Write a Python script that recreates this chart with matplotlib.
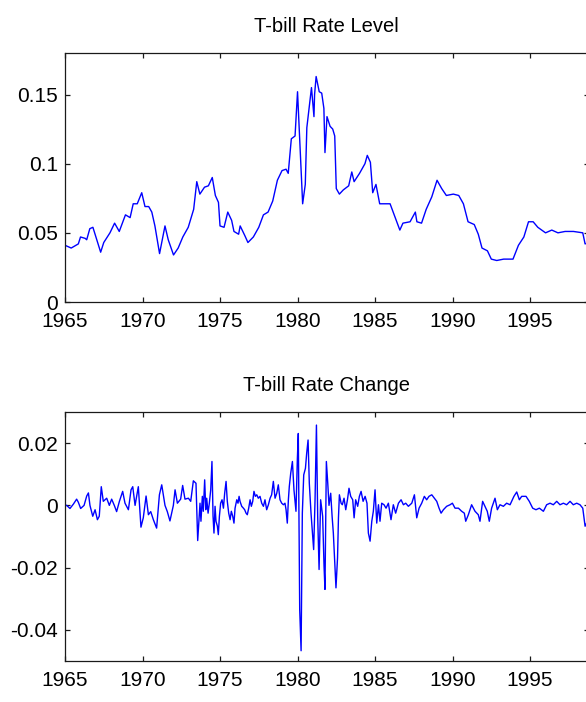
import matplotlib
matplotlib.use('Agg')
import matplotlib.pyplot as plt

plt.rcParams['font.family'] = ['Liberation Sans', 'DejaVu Sans']
plt.rcParams['axes.unicode_minus'] = False

# ---------------- data ----------------
level_years = [1965.0, 1965.4, 1965.86, 1966.0, 1966.3, 1966.4, 1966.6, 1966.8, 1967.05, 1967.3,
               1967.5, 1967.9, 1968.2, 1968.5, 1968.9, 1969.2, 1969.4, 1969.66, 1969.95, 1970.16,
               1970.4, 1970.6, 1970.8, 1971.1, 1971.45, 1971.66, 1972.0, 1972.3, 1972.6, 1972.95,
               1973.3, 1973.5, 1973.7, 1974.0, 1974.25, 1974.5, 1974.7, 1974.9, 1975.0, 1975.26,
               1975.5, 1975.75, 1975.9, 1976.2, 1976.3, 1976.6, 1976.8, 1977.15, 1977.5, 1977.8,
               1978.1, 1978.4, 1978.7, 1979.0, 1979.26, 1979.4, 1979.6, 1979.84, 1980.0, 1980.16,
               1980.33, 1980.5, 1980.6, 1980.8, 1980.9, 1981.06, 1981.1, 1981.2, 1981.4, 1981.56,
               1981.7, 1981.77, 1981.9, 1982.1, 1982.27, 1982.4, 1982.5, 1982.7, 1982.95, 1983.3,
               1983.5, 1983.65, 1984.0, 1984.35, 1984.5, 1984.7, 1984.85, 1985.06, 1985.3, 1985.65,
               1985.97, 1986.2, 1986.6, 1986.8, 1987.26, 1987.6, 1987.7, 1988.0, 1988.3, 1988.66,
               1989.0, 1989.3, 1989.6, 1990.05, 1990.4, 1990.7, 1991.0, 1991.4, 1991.66, 1991.9,
               1992.25, 1992.5, 1992.85, 1993.3, 1993.9, 1994.25, 1994.6, 1994.9, 1995.2, 1995.5,
               1996.0, 1996.4, 1996.8, 1997.26, 1997.8, 1998.4, 1998.55, 1998.8]
level_values = [0.041, 0.039, 0.042, 0.047, 0.046, 0.045, 0.053, 0.054, 0.045, 0.036,
                0.043, 0.050, 0.057, 0.051, 0.063, 0.061, 0.071, 0.071, 0.079, 0.069,
                0.069, 0.065, 0.055, 0.035, 0.055, 0.045, 0.034, 0.039, 0.047, 0.054,
                0.067, 0.087, 0.078, 0.083, 0.084, 0.090, 0.077, 0.072, 0.055, 0.054,
                0.065, 0.059, 0.051, 0.049, 0.055, 0.048, 0.043, 0.047, 0.054, 0.063,
                0.065, 0.073, 0.088, 0.095, 0.096, 0.093, 0.118, 0.120, 0.152, 0.112,
                0.071, 0.085, 0.126, 0.145, 0.155, 0.134, 0.150, 0.163, 0.152, 0.151,
                0.140, 0.108, 0.134, 0.127, 0.125, 0.120, 0.082, 0.078, 0.081, 0.084,
                0.094, 0.087, 0.093, 0.100, 0.106, 0.101, 0.079, 0.085, 0.071, 0.071,
                0.071, 0.064, 0.052, 0.057, 0.058, 0.065, 0.058, 0.057, 0.067, 0.076,
                0.088, 0.082, 0.077, 0.078, 0.077, 0.071, 0.058, 0.056, 0.049, 0.039,
                0.037, 0.031, 0.030, 0.031, 0.031, 0.041, 0.047, 0.058, 0.058, 0.054,
                0.050, 0.052, 0.050, 0.051, 0.051, 0.050, 0.042, 0.043]

change_years = [1965.0, 1965.11, 1965.32, 1965.54, 1965.75, 1965.86, 1966.01, 1966.23, 1966.40, 1966.51,
                1966.61, 1966.79, 1966.94, 1967.09, 1967.21, 1967.34, 1967.47, 1967.69, 1967.86, 1968.01,
                1968.18, 1968.33, 1968.51, 1968.72, 1968.87, 1969.09, 1969.26, 1969.37, 1969.52, 1969.73,
                1969.90, 1970.05, 1970.23, 1970.38, 1970.53, 1970.70, 1970.91, 1971.09, 1971.24, 1971.45,
                1971.60, 1971.77, 1971.99, 1972.10, 1972.25, 1972.46, 1972.59, 1972.74, 1972.96, 1973.11,
                1973.28, 1973.45, 1973.56,
                1973.71, 1973.77, 1973.86, 1973.92, 1974.01, 1974.08, 1974.14, 1974.23, 1974.31, 1974.40,
                1974.48, 1974.55, 1974.61, 1974.68, 1974.74, 1974.83, 1974.89, 1974.96, 1975.04, 1975.13,
                1975.22, 1975.30, 1975.39, 1975.47, 1975.56, 1975.65, 1975.73, 1975.82, 1975.90, 1975.97,
                1976.08, 1976.16, 1976.23, 1976.29, 1976.40, 1976.51, 1976.59, 1976.68, 1976.76, 1976.85,
                1976.94, 1977.02, 1977.11, 1977.19, 1977.28, 1977.37, 1977.47, 1977.58, 1977.69, 1977.80,
                1977.90, 1978.01, 1978.12, 1978.23, 1978.33, 1978.44, 1978.55, 1978.66, 1978.76, 1978.87,
                1978.98, 1979.09, 1979.19, 1979.26, 1979.34, 1979.41, 1979.47, 1979.56,
                1979.67, 1979.77, 1979.90, 1979.99, 1980.05, 1980.14, 1980.23, 1980.31, 1980.40,
                1980.51, 1980.59, 1980.68, 1980.76, 1980.87, 1980.96, 1981.04, 1981.13, 1981.22, 1981.30,
                1981.39, 1981.49, 1981.62, 1981.71, 1981.77, 1981.86, 1981.95, 1982.03, 1982.14, 1982.23,
                1982.31, 1982.40, 1982.48, 1982.58, 1982.64, 1982.70, 1982.81, 1982.89, 1983.00, 1983.11,
                1983.22, 1983.32, 1983.43, 1983.56, 1983.65, 1983.75, 1983.88, 1983.99, 1984.10, 1984.23,
                1984.36, 1984.48, 1984.57, 1984.68, 1984.79, 1984.89, 1985.00, 1985.11, 1985.22, 1985.32,
                1985.43, 1985.58, 1985.71, 1985.86, 1986.03, 1986.18, 1986.33, 1986.51, 1986.68, 1986.83,
                1986.98, 1987.15, 1987.37, 1987.54, 1987.69, 1987.84, 1988.01, 1988.18, 1988.33, 1988.48,
                1988.66, 1988.83, 1988.98, 1989.13, 1989.26, 1989.41, 1989.62, 1989.84, 1989.99, 1990.16,
                1990.38, 1990.59, 1990.76, 1990.85, 1991.02, 1991.23, 1991.45, 1991.66, 1991.77, 1991.94,
                1992.09, 1992.24, 1992.37, 1992.52, 1992.74, 1992.89, 1993.06, 1993.28, 1993.49, 1993.71,
                1993.96, 1994.14, 1994.31, 1994.46, 1994.74, 1994.95, 1995.17, 1995.38, 1995.60, 1995.86,
                1996.07, 1996.29, 1996.50, 1996.72, 1996.93, 1997.15, 1997.36, 1997.58, 1997.79, 1998.01,
                1998.22, 1998.40, 1998.55, 1998.8]
change_values = [0.0, 0.0, -0.001, 0.0004, 0.002, 0.001, -0.001, 0.0, 0.003, 0.004,
                 0.0, -0.0035, -0.0014, -0.0046, -0.0035, 0.006, 0.0013, 0.0023, 0.0, 0.002,
                 0.0, -0.002, 0.0013, 0.0045, 0.0007, -0.0014, 0.005, 0.006, 0.0, 0.006,
                 -0.007, -0.004, 0.003, -0.003, -0.002, -0.0046, -0.0073, 0.0034, 0.0066, 0.0,
                 -0.002, -0.005, 0.0, 0.005, 0.0007, 0.002, 0.0064, 0.002, 0.0023, 0.0013,
                 0.0079, 0.0071, -0.0113,
                 0.0007, -0.0051, 0.0029, -0.0019, 0.0082, -0.0014, 0.0023, -0.0025, 0.0007, 0.005,
                 0.0141, -0.0035, -0.0089, -0.0003, -0.0051, -0.0067, -0.0094, -0.0035, 0.0007, 0.0018,
                 -0.0009, 0.0039, 0.0077, 0.0013, -0.0025, -0.0046, -0.0019, -0.0035, -0.0057, -0.0009,
                 0.0018, 0.0007, 0.0029, 0.0013, -0.0003, -0.0009, -0.0014, -0.0025, -0.003, -0.0009,
                 0.0018, -0.0003, 0.0013, 0.0045, 0.0029, 0.0034, 0.0023, 0.0029, 0.0007, -0.0003,
                 0.0018, -0.0014, 0.0002, 0.0023, 0.0034, 0.0077, 0.0023, 0.0039, 0.0066, 0.0018,
                 0.0007, 0.0002, 0.0007, -0.0014, -0.0057, 0.0018, 0.0061, 0.0103,
                 0.0141, 0.005, -0.0019, 0.0151, 0.0231, -0.0334, -0.0467, -0.0025, 0.0098,
                 0.0119, 0.0167, 0.021, 0.0071, -0.0025, -0.0089, -0.0142, 0.0018, 0.0258, -0.0035,
                 -0.0206, 0.0018, -0.0035, -0.0195, -0.027, 0.0141, 0.0071, 0.0, 0.0039, -0.0035,
                 -0.0089, -0.0185, -0.0265, -0.0169, -0.004, 0.0034, 0.0007, 0.0002, 0.0023, -0.0014,
                 0.0018, 0.0055, 0.0029, 0.0018, -0.004, 0.0018, -0.0003, 0.0029, 0.0045, 0.0013,
                 0.0029, 0.0007, -0.0089, -0.0115, -0.0051, -0.0019, 0.005, -0.0057, 0.0002, -0.0051,
                 0.0007, 0.0002, -0.0009, 0.0007, -0.0046, 0.0002, -0.0025, 0.0007, 0.0018, 0.0002,
                 0.0007, -0.0003, 0.0007, 0.0034, -0.004, -0.0009, 0.0007, 0.0029, 0.0018, 0.0029,
                 0.0034, 0.0023, 0.0013, -0.0009, -0.0025, -0.0014, -0.0003, 0.0002, 0.0007, -0.0009,
                 -0.0009, -0.0019, -0.0025, -0.0051, -0.003, 0.0002, -0.0019, -0.003, -0.0051, 0.0013,
                 -0.0003, -0.0019, -0.0051, -0.0009, 0.0023, -0.0014, 0.0002, -0.0003, 0.0007, 0.0002,
                 0.0029, 0.0043, 0.0018, 0.0029, 0.0029, 0.0013, -0.0009, -0.0014, -0.0009, -0.0019,
                 0.0002, 0.0007, 0.0002, 0.0013, 0.0002, 0.0007, 0.0002, 0.0013, 0.0002, 0.0007,
                 0.0002, -0.0009, -0.0067, -0.004]

x_ticks = [1965, 1970, 1975, 1980, 1985, 1990, 1995]
x_ticklabels = ['1965', '1970', '1975', '1980', '1985', '1990', '1995']
level_yticks = [0, 0.05, 0.1, 0.15]
level_yticklabels = ['0', '0.05', '0.1', '0.15']
change_yticks = [-0.04, -0.02, 0, 0.02]
change_yticklabels = ['-0.04', '-0.02', '0', '0.02']
titles = ['T-bill Rate Level', 'T-bill Rate Change']

# ---------------- figure ----------------
W, H = 586, 702
fig = plt.figure(figsize=(W / 100, H / 100), dpi=100)


def rect(l, t, r, b):
    return [l / W, 1 - b / H, (r - l) / W, (b - t) / H]


ax1 = fig.add_axes(rect(65, 53, 588.5, 302))
ax2 = fig.add_axes(rect(65, 412, 588.5, 661))

ax1.plot(level_years, level_values, color='#0000FF', lw=1.0)
ax2.plot(change_years, change_values, color='#0000FF', lw=1.0)

ax1.set_ylim(0, 0.18)
ax2.set_ylim(-0.05, 0.03)
ax1.set_yticks(level_yticks)
ax1.set_yticklabels(level_yticklabels)
ax2.set_yticks(change_yticks)
ax2.set_yticklabels(change_yticklabels)

for ax, title in zip((ax1, ax2), titles):
    ax.set_xlim(1965, 1998.77)
    ax.set_xticks(x_ticks)
    ax.set_xticklabels(x_ticklabels)
    ax.set_title(title, fontsize=14.5, pad=15)
    ax.tick_params(direction='in', top=True, right=True, length=3.6, width=0.9,
                   labelsize=15, colors='#1a1a1a', labelcolor='black')
    ax.tick_params(axis='x', pad=7.5)
    ax.tick_params(axis='y', pad=5)
    for s in ax.spines.values():
        s.set_linewidth(0.9)
        s.set_color('#1a1a1a')

fig.savefig('out.png', dpi=100)
